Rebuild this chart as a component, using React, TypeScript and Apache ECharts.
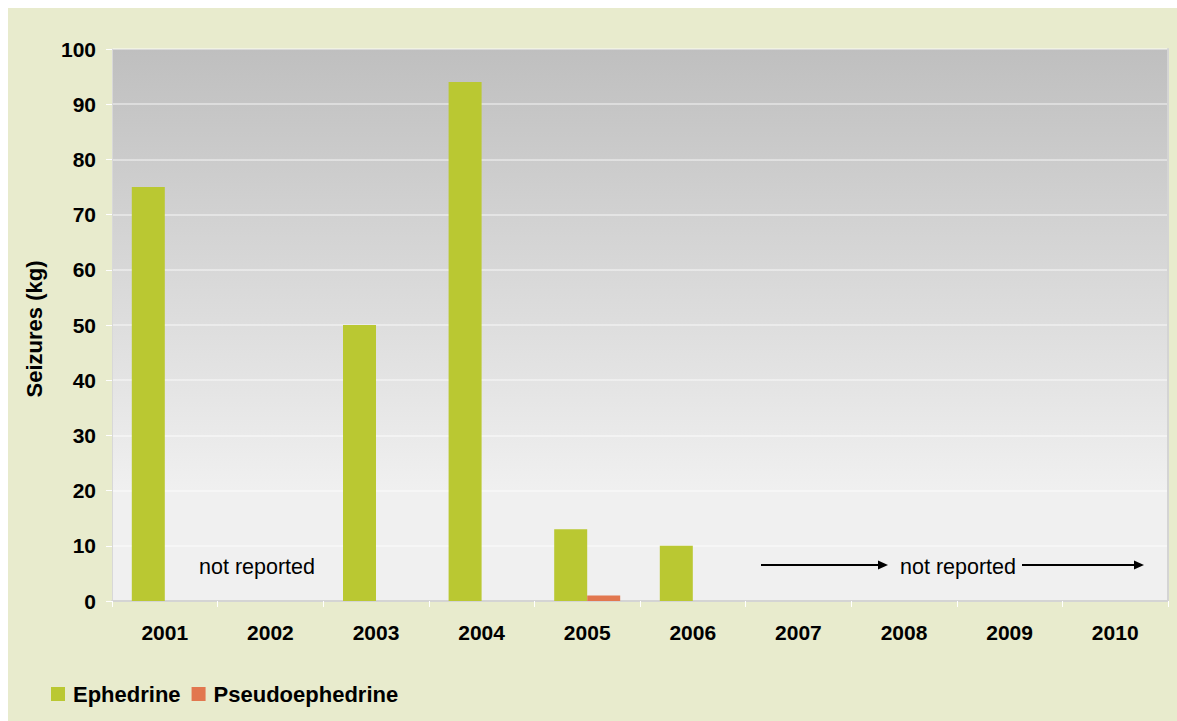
import React, { useEffect, useRef } from "react";
import * as echarts from "echarts";

const years = ["2001", "2002", "2003", "2004", "2005", "2006", "2007", "2008", "2009", "2010"];
const ephedrine: (number | null)[] = [75, null, 50, 94, 13, 10, null, null, null, null];
const pseudoephedrine: (number | null)[] = [null, null, null, null, 1, null, null, null, null, null];
const seriesNames = ["Ephedrine", "Pseudoephedrine"];
const notReportedText = "not reported";

const FONT = "'Liberation Sans', Arial, sans-serif";

export default function App() {
  const ref = useRef<HTMLDivElement>(null);
  useEffect(() => {
    if (!ref.current) return;
    const chart = echarts.init(ref.current, undefined, { renderer: "svg" });
    const bg = new echarts.graphic.LinearGradient(0, 0, 0, 1, [
      { offset: 0, color: "#bfbfbf" },
      { offset: 0.8, color: "#f0f0f0" },
      { offset: 1, color: "#f0f0f0" },
    ]);
    chart.setOption({
      animation: false,
      backgroundColor: "#e8ebcd",
      textStyle: { fontFamily: FONT },
      grid: {
        left: 104,
        top: 41,
        right: 9,
        bottom: 120,
        show: true,
        backgroundColor: bg,
        borderWidth: 0,
      },
      legend: {
        left: 43,
        top: 675,
        padding: 0,
        itemWidth: 14,
        itemHeight: 14,
        itemGap: 11,
        icon: "rect",
        textStyle: { fontFamily: FONT, fontSize: 22, fontWeight: "bold", color: "#000", padding: [0, 0, 0, 3] },
        data: seriesNames,
      },
      xAxis: {
        type: "category",
        data: years,
        axisLine: { show: true, lineStyle: { color: "#d4d4d4", width: 2 } },
        axisTick: { show: true, length: 6, lineStyle: { color: "#ffffff" } },
        axisLabel: { fontFamily: FONT, fontSize: 21, fontWeight: "bold", color: "#000", margin: 21 },
        splitLine: { show: false },
      },
      yAxis: [
        {
          type: "value",
          min: 0,
          max: 100,
          interval: 10,
          name: "Seizures (kg)",
          nameLocation: "middle",
          nameGap: 67,
          nameTextStyle: { fontFamily: FONT, fontSize: 22, fontWeight: "bold", color: "#000", padding: [0, 8, 0, 0] },
          axisLine: { show: true, lineStyle: { color: "#d8d8d8" } },
          axisTick: { show: true, length: 6, lineStyle: { color: "#ffffff" } },
          axisLabel: { fontFamily: FONT, fontSize: 21, fontWeight: "bold", color: "#000", margin: 16 },
          splitLine: { show: true, lineStyle: { color: "rgba(255,255,255,0.55)", width: 1.5 } },
        },
        {
          type: "value",
          min: 0,
          max: 100,
          interval: 10,
          position: "right",
          axisLine: { show: true, lineStyle: { color: "#d4d4d4", width: 2 } },
          axisTick: { show: false },
          axisLabel: { show: false },
          splitLine: { show: false },
        },
      ],
      series: [
        {
          name: seriesNames[0],
          type: "bar",
          data: ephedrine,
          barWidth: 33,
          barGap: "0%",
          itemStyle: { color: "#bac832" },
        },
        {
          name: seriesNames[1],
          type: "bar",
          data: pseudoephedrine,
          barWidth: 33,
          barGap: "0%",
          itemStyle: { color: "#e2774f" },
        },
      ],
      graphic: [
        {
          type: "text",
          x: 249,
          y: 559,
          style: { text: notReportedText, font: `21.5px ${FONT}`, fill: "#000", align: "center", verticalAlign: "middle" },
        },
        {
          type: "text",
          x: 950,
          y: 559,
          style: { text: notReportedText, font: `21.5px ${FONT}`, fill: "#000", align: "center", verticalAlign: "middle" },
        },
        { type: "line", shape: { x1: 753, y1: 557, x2: 872, y2: 557 }, style: { stroke: "#000", lineWidth: 2 } },
        { type: "polygon", shape: { points: [[870, 552.5], [880, 557], [870, 561.5]] }, style: { fill: "#000" } },
        { type: "line", shape: { x1: 1014, y1: 557, x2: 1128, y2: 557 }, style: { stroke: "#000", lineWidth: 2 } },
        { type: "polygon", shape: { points: [[1126, 552.5], [1136, 557], [1126, 561.5]] }, style: { fill: "#000" } },
      ],
    });
    return () => chart.dispose();
  }, []);
  return <div ref={ref} style={{ position: "fixed", left: 8, top: 8, width: 1169, height: 713 }} />;
}
